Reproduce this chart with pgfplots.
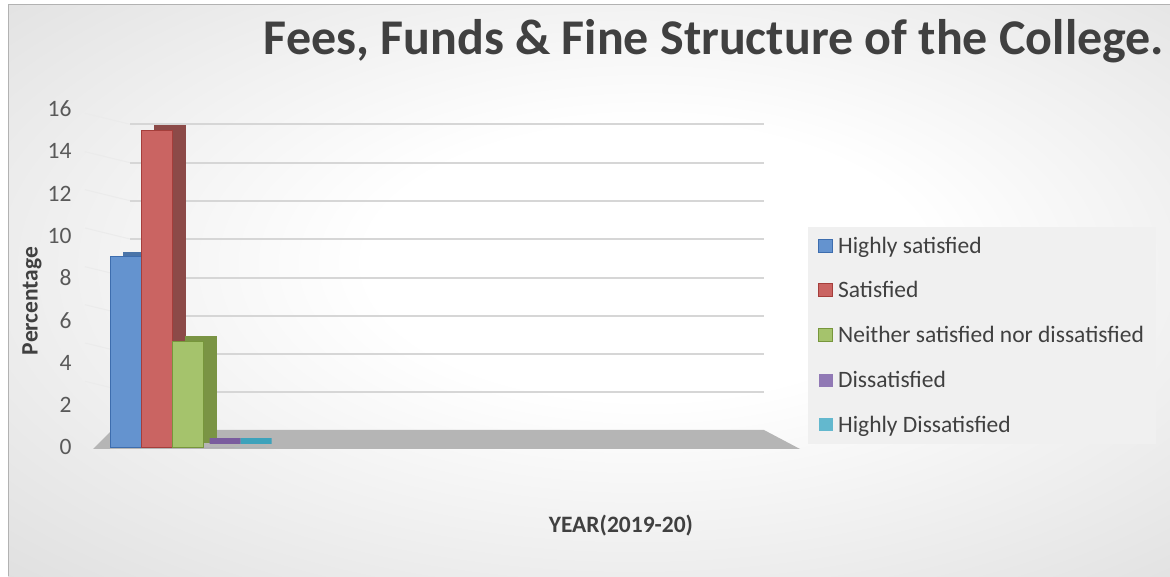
\documentclass[border=0pt]{standalone}
\usepackage{pgfplots}
\pgfplotsset{compat=1.18}
\usepackage{fontspec}
\setmainfont{Carlito}
\definecolor{bfront}{HTML}{6493CF}\definecolor{bedge}{HTML}{3D6DAE}\definecolor{bside}{HTML}{4A74A8}
\definecolor{rfront}{HTML}{CA6462}\definecolor{redge}{HTML}{A53E3B}\definecolor{rside}{HTML}{8C4A48}
\definecolor{gfront}{HTML}{A5C36C}\definecolor{gedge}{HTML}{77963B}\definecolor{gside}{HTML}{7A9444}
\definecolor{pfront}{HTML}{9179B5}\definecolor{pedge}{HTML}{6A4E8E}\definecolor{pslab}{HTML}{7A5C9E}
\definecolor{cfront}{HTML}{63B8CE}\definecolor{cedge}{HTML}{3791AB}\definecolor{cslab}{HTML}{3DA2BB}
\pgfdeclareradialshading{bgshade}{\pgfpoint{3bp}{3bp}}{color(0bp)=(white); color(12bp)=(white); color(48bp)=(black!17); color(75bp)=(black!27)}
\begin{document}
\begin{tikzpicture}
\useasboundingbox (0pt,0pt) rectangle (1170pt,576pt);
\fill[white] (0pt,0pt) rectangle (1170pt,576pt);
\shade[shading=bgshade] (8pt,0pt) rectangle (1170pt,571pt);
\draw[black!30, line width=1pt] (8pt,0pt) -- (8pt,571pt) -- (1170pt,571pt);
% back wall gridlines (decoration)
\foreach \yy in {124.3,162.7,200.7,239,277.7,315.7,354,392.3}{
  \draw[black!8, line width=1pt] (85pt,{(576-\yy+11)*1pt}) -- (130pt,{(576-\yy)*1pt});
  \draw[black!16, line width=2pt] (130pt,{(576-\yy)*1pt}) -- (764pt,{(576-\yy)*1pt});
}
% floor
\fill[black!29] (93pt,127pt) -- (800pt,127pt) -- (764pt,146pt) -- (112pt,146pt) -- cycle;
\node[anchor=base, font=\fontsize{50}{58}\selectfont\bfseries, text=black!75] at (714pt,521pt) {Fees, Funds \& Fine Structure of the College.};
\begin{axis}[
  at={(92pt,129pt)}, anchor=south west, scale only axis,
  width=708pt, height=338pt,
  xmin=-1.097, xmax=21.74, ymin=0, ymax=16,
  ytick={0,2,...,16}, xtick=\empty,
  axis line style={draw=none}, major tick length=0pt,
  clip=false,
  /pgf/number format/assume math mode=true,
  yticklabel style={font=\fontsize{23.5}{28}\selectfont, text=black!65, xshift=-17pt},
  ylabel={Percentage},
  ylabel style={at={(axis description cs:-0.0847,0.432)}, anchor=center, font=\fontsize{23.5}{28}\selectfont\bfseries, text=black!75},
  xlabel={YEAR(2019-20)},
  xlabel style={at={(axis description cs:0.747,-0.231)}, anchor=center, font=\fontsize{23.5}{28}\selectfont\bfseries, text=black!75},
  legend image code/.code={\draw[#1, line width=0.9pt] (0pt,-6.5pt) rectangle (14pt,6.5pt); \path (17pt,0pt);},
  legend style={at={(axis description cs:1.0113,0.0089)}, anchor=south west, fill=black!6, draw=none,
    font=\fontsize{23.5}{28}\selectfont, text=black!75, inner xsep=10pt, inner ysep=8pt, row sep=23pt},
  legend cell align=left,
]
% side faces (pseudo 3-D)
\addplot[ybar, bar width=1, bar shift=0, fill=bside, draw=bside, xshift=13pt, yshift=5pt, forget plot] coordinates {(0,9)};
\addplot[ybar, bar width=1, bar shift=0, fill=bfront, draw=bedge, line width=1pt] coordinates {(0,9)};
\addlegendentry{Highly satisfied}
\addplot[ybar, bar width=1, bar shift=0, fill=rside, draw=rside, xshift=13pt, yshift=5pt, forget plot] coordinates {(1,15)};
\addplot[ybar, bar width=1, bar shift=0, fill=rfront, draw=redge, line width=1pt] coordinates {(1,15)};
\addlegendentry{Satisfied}
\addplot[ybar, bar width=1, bar shift=0, fill=gside, draw=gside, xshift=13pt, yshift=5pt, forget plot] coordinates {(2,5)};
\addplot[ybar, bar width=1, bar shift=0, fill=gfront, draw=gedge, line width=1pt] coordinates {(2,5)};
\addlegendentry{Neither satisfied nor dissatisfied}
\addplot[ybar, bar width=1, bar shift=0, fill=pslab, draw=pslab, line width=6pt, line join=bevel, xshift=6pt, yshift=6pt, forget plot] coordinates {(3,0)};
\addplot[ybar, bar width=1, bar shift=0, fill=pfront, draw=pedge, draw opacity=0] coordinates {(3,0)};
\addlegendentry{Dissatisfied}
\addplot[ybar, bar width=1, bar shift=0, fill=cslab, draw=cslab, line width=6pt, line join=bevel, xshift=6pt, yshift=6pt, forget plot] coordinates {(4,0)};
\addplot[ybar, bar width=1, bar shift=0, fill=cfront, draw=cedge, draw opacity=0] coordinates {(4,0)};
\addlegendentry{Highly Dissatisfied}
\end{axis}
\end{tikzpicture}
\end{document}
